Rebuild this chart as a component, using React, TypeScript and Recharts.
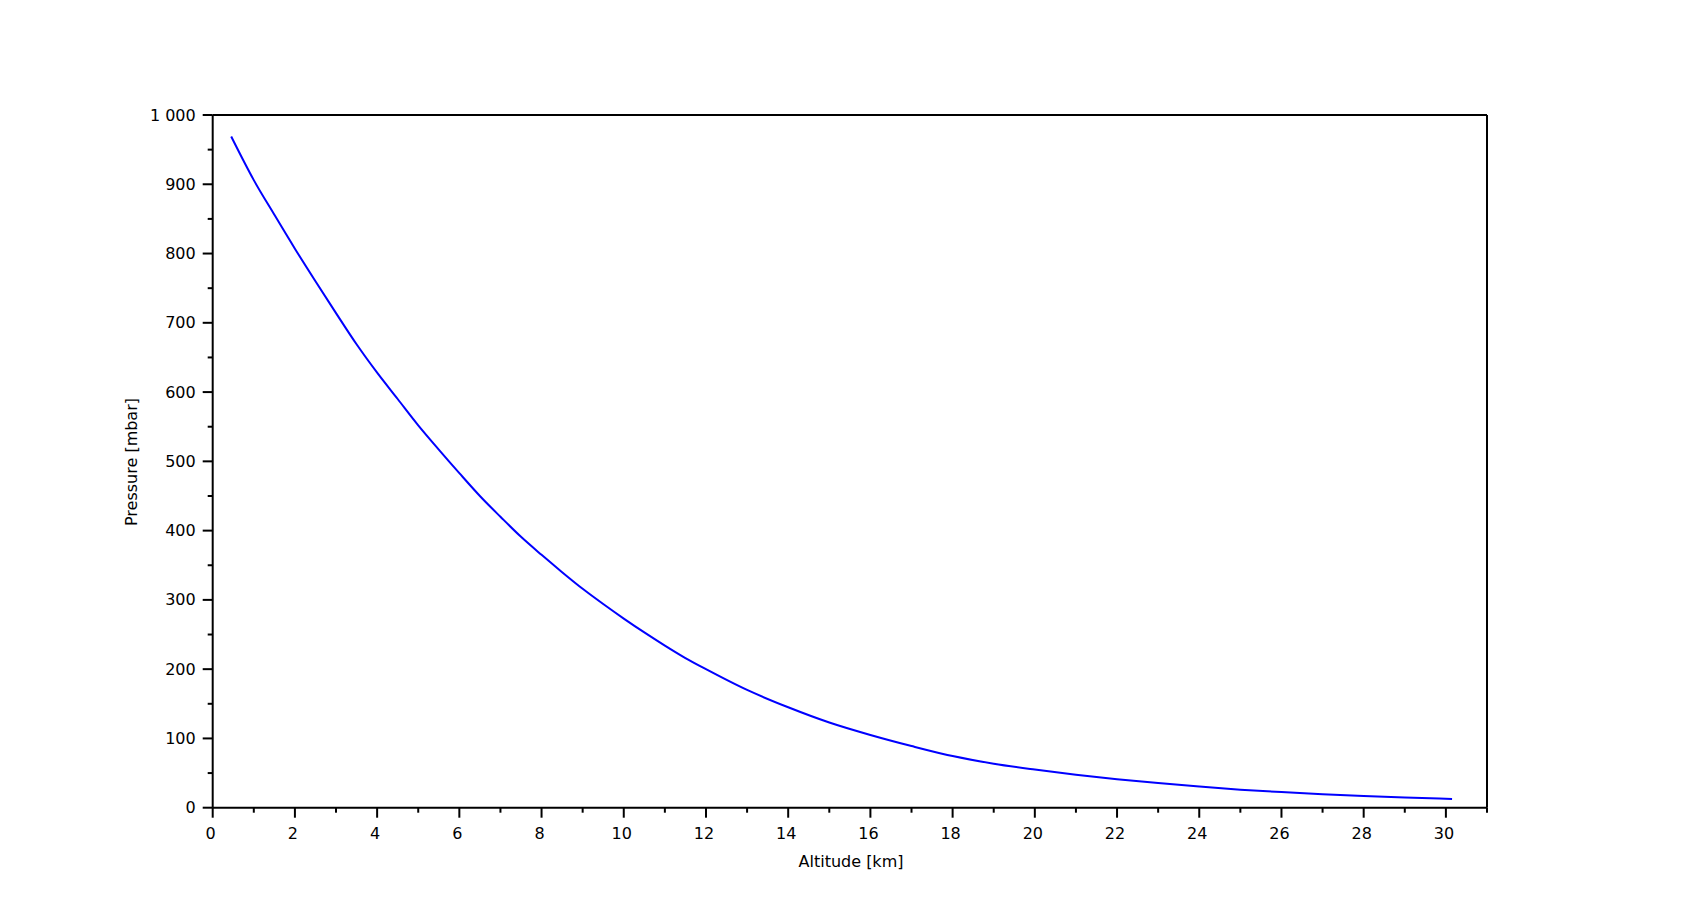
import React from 'react';
import { LineChart, Line, XAxis, YAxis, ReferenceLine } from 'recharts';

// altitude in km, pressure in mbar
const altitude = [
  0.45, 1, 1.5, 2, 2.5, 3, 3.5, 4, 4.5, 5, 5.5, 6, 6.5, 7, 7.5, 8, 8.5, 9, 9.5, 10,
  10.5, 11, 11.5, 12, 13, 14, 15, 16, 17, 18, 19, 20, 21, 22, 23, 24, 25, 26, 27, 28, 29, 30.15,
];
const pressure = [
  969, 906, 856, 807, 760, 714, 669, 628, 590, 552, 517, 483, 450, 420, 391, 365, 340, 316, 294, 273,
  253, 234, 216, 200, 170, 145, 123, 105, 89, 74.5, 63.5, 55, 47.5, 41, 35.5, 30.5, 26, 22.5, 19.5, 17, 14.8, 12.6,
];

const xTicks = Array.from({ length: 32 }, (_, i) => i);
const yTicks = Array.from({ length: 21 }, (_, i) => i * 50);

const data = altitude.map((a, i) => ({ alt: a, p: pressure[i] }));

const FONT = '"DejaVu Sans", sans-serif';

const fmt = (v: number) => (v >= 1000 ? `${Math.floor(v / 1000)} ${String(v % 1000).padStart(3, '0')}` : String(v));

const XTick = ({ x, y, payload }: any) => {
  const major = payload.value % 2 === 0 && payload.value !== 31;
  return (
    <g>
      <line x1={x} x2={x} y1={y} y2={y + (major ? 10 : 5)} stroke="#000" strokeWidth={2} />
      {major && (
        <text x={x - 2} y={y + 26} textAnchor="middle" dominantBaseline="central" fontFamily={FONT} fontSize={16} fill="#000">
          {payload.value}
        </text>
      )}
    </g>
  );
};

const YTick = ({ x, y, payload }: any) => {
  const major = payload.value % 100 === 0;
  return (
    <g>
      <line x1={x - (major ? 10 : 5)} x2={x} y1={y} y2={y} stroke="#000" strokeWidth={2} />
      {major && (
        <text x={x - 17} y={y} textAnchor="end" dominantBaseline="central" fontFamily={FONT} fontSize={16} fill="#000">
          {fmt(payload.value)}
        </text>
      )}
    </g>
  );
};

export default function App() {
  return (
    <div style={{ position: 'absolute', left: 0, top: 0, width: 1700, height: 923, background: '#fff', fontFamily: FONT }}>
      <LineChart width={1700} height={923} data={data} margin={{ top: 115, right: 213, bottom: 55.3, left: 132.7 }}>
        <XAxis
          dataKey="alt"
          type="number"
          domain={[0, 31]}
          ticks={xTicks}
          interval={0}
          tickLine={false}
          tickSize={0}
          tickMargin={0}
          tick={<XTick />}
          height={60}
          stroke="#000"
          strokeWidth={2}
        />
        <YAxis
          type="number"
          domain={[0, 1000]}
          ticks={yTicks}
          interval={0}
          tickLine={false}
          tickSize={0}
          tickMargin={0}
          tick={<YTick />}
          width={80}
          stroke="#000"
          strokeWidth={2}
        />
        <ReferenceLine y={1000} stroke="#000" strokeWidth={2} />
        <ReferenceLine x={31} stroke="#000" strokeWidth={2} />
        <Line
          dataKey="p"
          type="monotone"
          stroke="#0000ff"
          strokeWidth={2}
          dot={false}
          isAnimationActive={false}
        />
      </LineChart>
      <div style={{ position: 'absolute', left: 751, top: 852, width: 200, lineHeight: '20px', fontSize: 16, textAlign: 'center' }}>
        Altitude [km]
      </div>
      <div
        style={{
          position: 'absolute', left: 31.7, top: 452, width: 200, height: 20, lineHeight: '20px',
          fontSize: 16, textAlign: 'center', transform: 'rotate(-90deg)', transformOrigin: 'center',
        }}
      >
        Pressure [mbar]
      </div>
    </div>
  );
}
